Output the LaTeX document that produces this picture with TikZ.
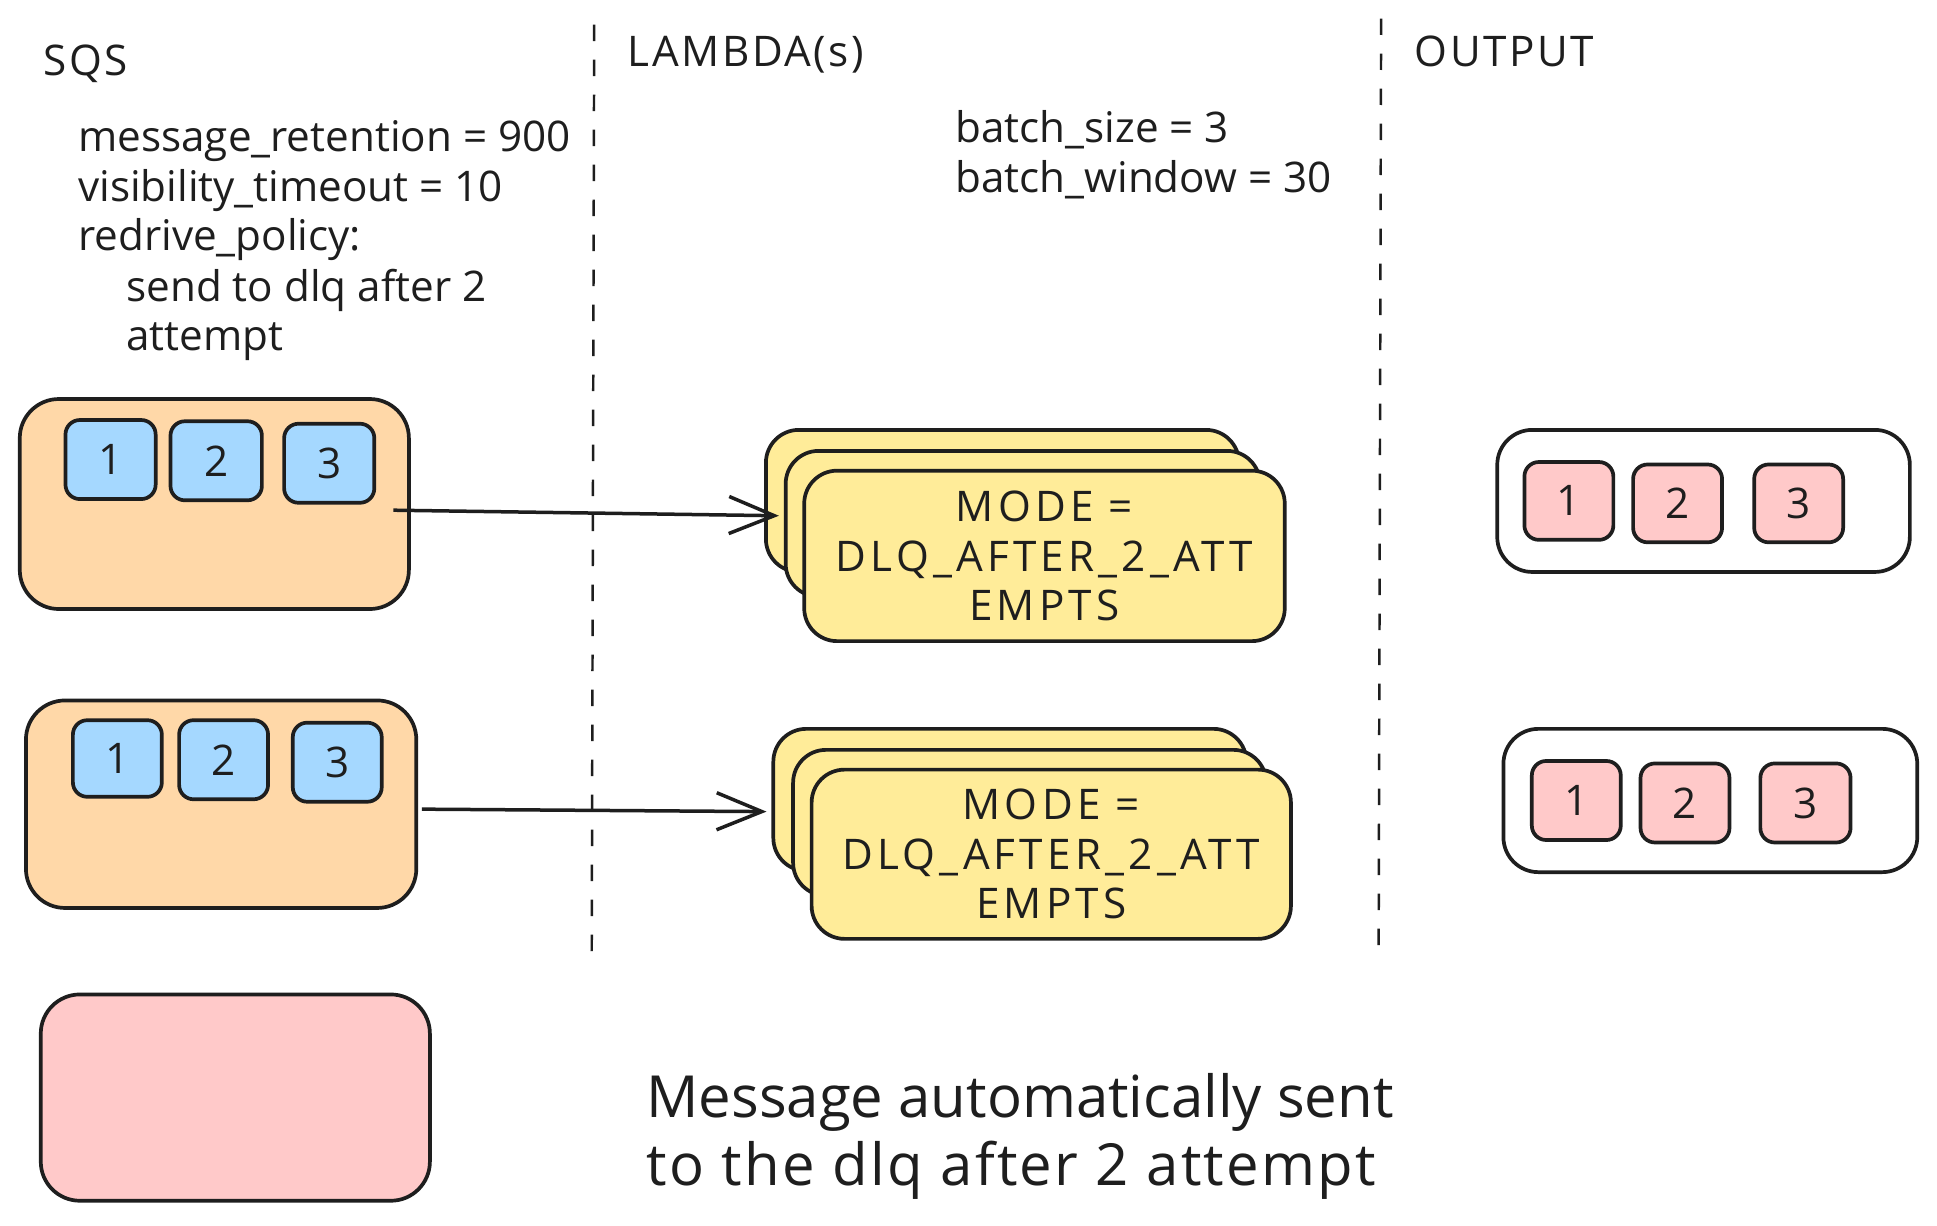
\documentclass[tikz,border=0pt]{standalone}
\usepackage{fontspec}
\setmainfont{Open Sans}
\usetikzlibrary{arrows.meta}
\definecolor{ink}{HTML}{1E1E1E}
\definecolor{sqsfill}{HTML}{FFD8A8}
\definecolor{msgblue}{HTML}{A5D8FF}
\definecolor{msgpink}{HTML}{FFC9C9}
\definecolor{lamfill}{HTML}{FFEC99}
\newcommand\lblfont{\fontsize{20.5pt}{24pt}\selectfont}
\newcommand\capsfont{\fontsize{20.5pt}{24pt}\selectfont\addfontfeature{LetterSpace=10}}
\newcommand\headfont{\fontsize{20.5pt}{24pt}\selectfont\addfontfeature{LetterSpace=6}}
\newcommand\bigfont{\fontsize{28.2pt}{33pt}\selectfont}
\newcommand\widebigfont{\fontsize{28.2pt}{33pt}\selectfont\addfontfeature{LetterSpace=4}}
\tikzset{
  base/.style={draw=ink, line width=1.8pt, inner sep=0pt, text=ink},
  sz/.style 2 args={minimum width=#1*0.6pt, minimum height=#2*0.6pt},
  queue/.style={base, fill=sqsfill, rounded corners=19pt},
  msg/.style={base, fill=msgblue, rounded corners=7pt, font=\lblfont},
  outmsg/.style={base, fill=msgpink, rounded corners=7pt, font=\lblfont},
  lam/.style={base, fill=lamfill, rounded corners=16pt, align=center, font=\capsfont},
  outbox/.style={base, fill=white, rounded corners=17pt},
  dlq/.style={base, fill=msgpink, rounded corners=19pt},
  lbl/.style={inner sep=0pt, text=ink, font=\lblfont, anchor=base west},
  caps/.style={lbl, font=\headfont},
  sep/.style={draw=ink, line width=1.2pt, dash pattern=on 8pt off 9pt},
  arr/.style={draw=ink, line width=1.7pt, -{Straight Barb[length=22pt,width=18pt]}},
}
\begin{document}
\begin{tikzpicture}[x=0.6pt,y=-0.6pt]
\fill[white] (0,0) rectangle (1568,992);
\useasboundingbox (0,0) rectangle (1568,992);

% column separators
\draw[sep] (481,20) -- (479,770);
\draw[sep] (1118,15) -- (1116,768);

% headings and notes
\node[caps] (sqs) at (35,61) {SQS};
\node[caps] (lambda) at (508,54) {LAMBDA(s)};
\node[caps] (output) at (1145,54) {OUTPUT};
\node[lbl] (cfg1) at (63,123) {message\_retention = 900};
\node[lbl] (cfg2) at (63,163) {visibility\_timeout = 10};
\node[lbl] (cfg3) at (63,203) {redrive\_policy:};
\node[lbl] (cfg4) at (102,244) {send to dlq after 2};
\node[lbl] (cfg5) at (102,284) {attempt};
\node[lbl] (bs1) at (773,115) {batch\_size = 3};
\node[lbl] (bs2) at (773,156) {batch\_window = 30};
\node[lbl, font=\bigfont] (note1) at (523,905) {Message automatically sent};
\node[lbl, font=\widebigfont] (note2) at (523,960) {to the dlq after 2 attempt};

% row 1
\node[queue, sz={315}{170}] (sqsA) at (173.5,408) {};
\node[msg, sz={73}{64}] (mA1) at (89.5,372) {1};
\node[msg, sz={74}{64}] (mA2) at (175,373) {2};
\node[msg, sz={73}{64}] (mA3) at (266.5,375) {3};

\node[lam, sz={383}{115}] (lamA1) at (811.5,405.5) {};
\node[lam, sz={384}{118}] (lamA2) at (828,424) {};
\node[lam, sz={389}{138}] (lamA3) at (845.5,450) {MODE =\\DLQ\_AFTER\_2\_ATT\\EMPTS};

\node[outbox, sz={334}{115}] (outA) at (1379,405.5) {};
\node[outmsg, sz={72}{63}] (oA1) at (1270,405.5) {1};
\node[outmsg, sz={72}{63}] (oA2) at (1358,407.5) {2};
\node[outmsg, sz={72}{63}] (oA3) at (1456,407.5) {3};

\draw[arr] ([shift={(-14,5)}]sqsA.east) -- ([shift={(12,12)}]lamA1.west);

% row 2
\node[queue, sz={316}{168}] (sqsB) at (179,651) {};
\node[msg, sz={72}{62}] (mB1) at (95,614) {1};
\node[msg, sz={72}{64}] (mB2) at (181,615) {2};
\node[msg, sz={72}{64}] (mB3) at (273,617) {3};

\node[lam, sz={383}{115}] (lamB1) at (817.5,647.5) {};
\node[lam, sz={383}{118}] (lamB2) at (833.5,666) {};
\node[lam, sz={388}{137}] (lamB3) at (851,691.5) {MODE =\\DLQ\_AFTER\_2\_ATT\\EMPTS};

\node[outbox, sz={335}{116}] (outB) at (1384.5,648) {};
\node[outmsg, sz={72}{64}] (oB1) at (1276,648) {1};
\node[outmsg, sz={72}{64}] (oB2) at (1364,650) {2};
\node[outmsg, sz={73}{64}] (oB3) at (1461.5,650) {3};

\draw[arr] ([shift={(3,4)}]sqsB.east) -- ([shift={(-4,9.5)}]lamB1.west);

% dead-letter queue
\node[dlq, sz={315}{167}] (dlqbox) at (190.5,888.5) {};
\end{tikzpicture}
\end{document}
